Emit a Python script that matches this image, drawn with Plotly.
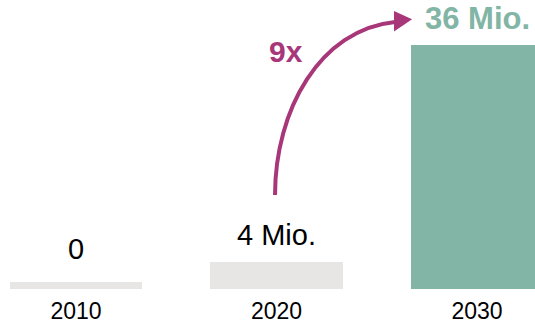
import numpy as np
import plotly.graph_objects as go

# ---- data ----
categories = ["2010", "2020", "2030"]
values = [0, 4, 36]                       # million
value_labels = ["0", "4 Mio.", "36 Mio."]
growth_label = "9x"

# ---- style ----
GRAY = "#E7E6E4"
TEAL = "#82B5A5"
MAGENTA = "#A8377A"
FONT = "Arial, 'Liberation Sans', sans-serif"
MIN_VISIBLE = 1.0      # minimum drawn bar height so that 0 still shows
LABEL_FLOOR = 1.9

xpos = np.arange(len(categories))
shown = np.maximum(values, MIN_VISIBLE)
colors = [GRAY, GRAY, TEAL]

fig = go.Figure()
fig.add_trace(go.Bar(
    x=xpos, y=shown, width=0.66,
    marker=dict(color=colors, line=dict(width=0)),
    hoverinfo="skip",
))

annotations = []
for i, (v, lab) in enumerate(zip(values, value_labels)):
    last = i == len(values) - 1
    annotations.append(dict(
        x=xpos[i], y=max(v, LABEL_FLOOR), xref="x", yref="y",
        text=f"<b>{lab}</b>" if last else lab,
        showarrow=False, xanchor="center", yanchor="bottom",
        yshift=7 if last else 9,
        font=dict(family=FONT, size=31 if last else 29,
                  color=TEAL if last else "#000000"),
    ))
annotations.append(dict(
    x=1.045, y=35.0, xref="x", yref="y",
    text=f"<b>{growth_label}</b>", showarrow=False,
    xanchor="center", yanchor="middle",
    font=dict(family=FONT, size=30, color=MAGENTA),
))

# curved arrow from the 2020 value to the 2030 value
p0 = (0.9925, 13.87)
p1 = (0.9925, 26.40)
p2 = (1.217, 38.30)
p3 = (1.591, 39.40)
path = (f"M {p0[0]},{p0[1]} C {p1[0]},{p1[1]} {p2[0]},{p2[1]} "
        f"{p3[0]},{p3[1]}")
head = (f"M 1.586,41.0 L 1.676,39.8 L 1.586,38.0 Z")

fig.update_layout(
    width=535, height=324,
    margin=dict(l=0, r=0, t=0, b=35),
    paper_bgcolor="white", plot_bgcolor="white",
    showlegend=False,
    bargap=0,
    annotations=annotations,
    shapes=[
        dict(type="path", path=path, xref="x", yref="y",
             line=dict(color=MAGENTA, width=4)),
        dict(type="path", path=head, xref="x", yref="y",
             line=dict(color=MAGENTA, width=0), fillcolor=MAGENTA),
    ],
    xaxis=dict(
        range=[-0.379, 2.289], tickmode="array", tickvals=xpos,
        ticktext=categories, showgrid=False, zeroline=False,
        showline=False, ticks="outside", ticklen=1, tickcolor="white",
        tickfont=dict(family=FONT, size=23, color="#000000"),
        automargin=False, fixedrange=True,
    ),
    yaxis=dict(
        range=[0, 42.64], visible=False, showgrid=False,
        zeroline=False, fixedrange=True, automargin=False,
    ),
)

fig.write_html("out.html", config={"displayModeBar": False},
               post_script="document.body.style.margin='0';")
